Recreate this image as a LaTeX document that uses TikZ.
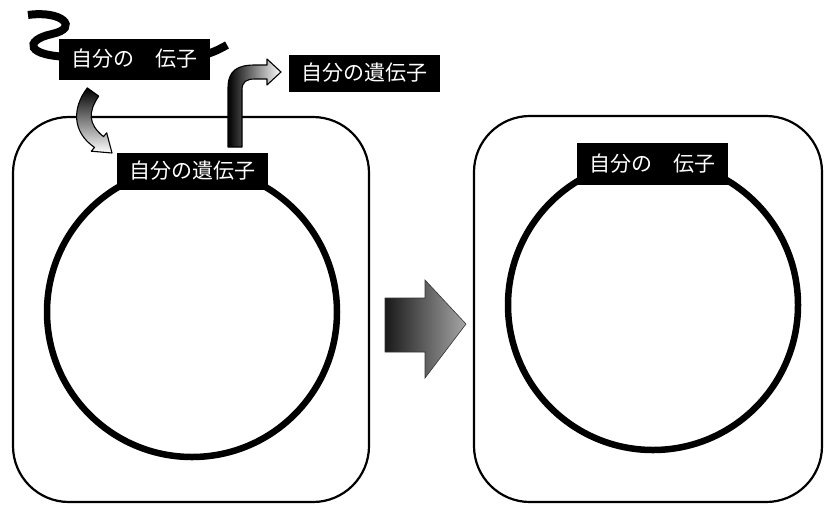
\documentclass[tikz,border=0pt]{standalone}
\usepackage{fontspec}
\newfontfamily\cjk{Noto Sans CJK JP}
\begin{document}
\begin{tikzpicture}[x=1pt,y=-1pt,
  cellbox/.style={draw=black,line width=2.2pt,rounded corners=56pt},
  ring/.style={draw=black,line width=6.5pt},
  genelabel/.style={fill=black,text=white,inner sep=0pt,minimum width=151pt,
    minimum height=38pt,font=\cjk\fontsize{21}{21}\selectfont},
  strand/.style={draw=black,line width=8pt},
  bentarrow/.style={draw=black,line width=1.1pt,line join=round}
]
\useasboundingbox (0,0) rectangle (824,504);
% cells
\draw[cellbox] (13,117) rectangle (369,502);
\draw[cellbox] (474,116) rectangle (822,502);
% rings
\draw[ring] (192,312) circle[radius=145pt];
\draw[ring] (653,305) circle[radius=145pt];
% strand of DNA behind top-left label
\draw[strand] (28,15) .. controls (62,10) and (80,28) .. (52,34)
  .. controls (24,40) and (24,57) .. (75,57);
\draw[strand] (200,56) .. controls (212,53) and (218,50) .. (227,45);
% labels
\node[genelabel,minimum height=41pt] (tl) at (134,59) {自分の　伝子};
\node[genelabel,minimum height=37pt] (c1) at (192,171) {自分の遺伝子};
\node[genelabel,minimum height=37pt] (tr) at (364,73) {自分の遺伝子};
\node[genelabel,minimum height=42pt] (c2) at (652,164) {自分の　伝子};
% arrow into the cell
\shade[bentarrow,top color=black,middle color=black!70,bottom color=white]
  (87.3,87.9) .. controls (72,108) and (72,132) .. (94.5,147.4)
  -- (91.3,151.2) -- (112,153) -- (106.7,132.8) -- (103.5,136.6)
  .. controls (88,124) and (88,112) .. (98.7,96.1) -- cycle;
% arrow out of the cell
\shade[bentarrow,left color=black,middle color=black!60,right color=white]
  (228,147) -- (228,88) .. controls (228,70) and (238,65) .. (255,65)
  -- (267,65) -- (267,59) -- (281,72) -- (267,85) -- (267,79) -- (255,79)
  .. controls (246,79) and (242,82) .. (242,90) -- (242,147) -- cycle;
% big arrow between cells
\shade[draw=black!80,line width=0.6pt,left color=black!90,right color=black!35]
  (385,298) -- (425,298) -- (425,280) -- (466,324) -- (425,378)
  -- (425,352) -- (385,352) -- cycle;
\end{tikzpicture}
\end{document}
